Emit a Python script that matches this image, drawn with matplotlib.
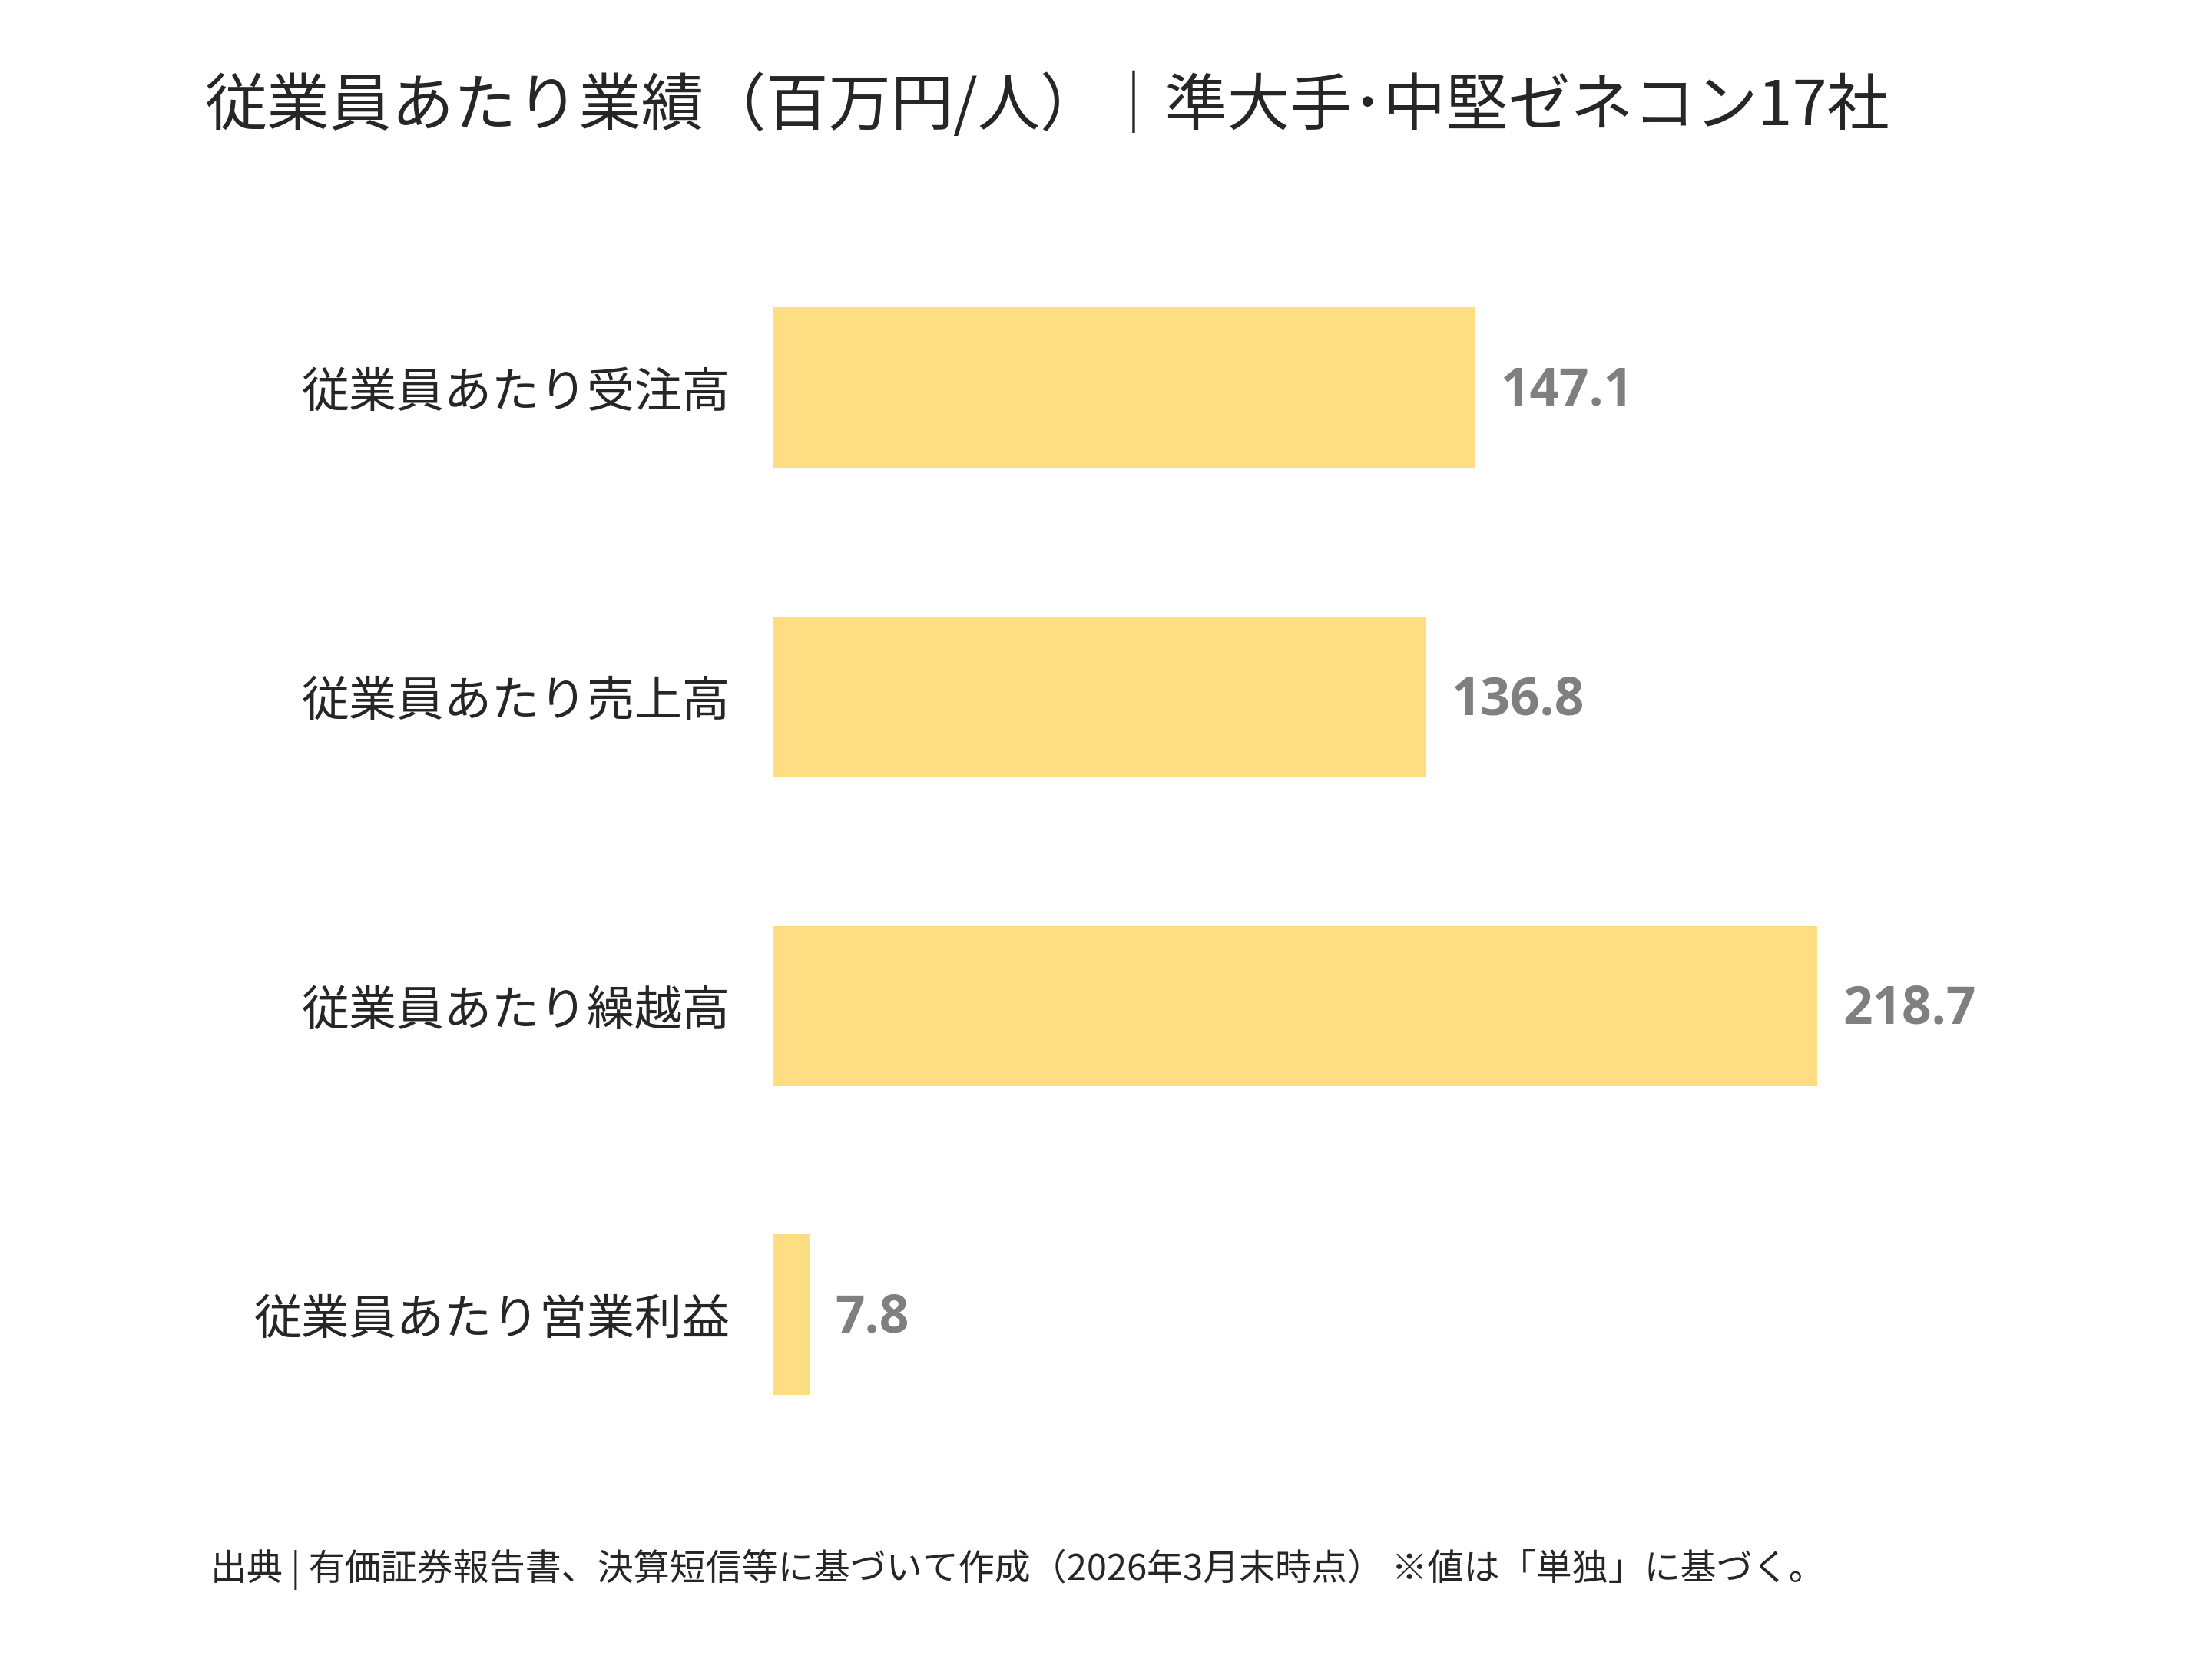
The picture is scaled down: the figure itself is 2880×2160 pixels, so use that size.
import matplotlib
matplotlib.use("Agg")
import matplotlib.pyplot as plt

plt.rcParams['font.family'] = ['Noto Sans CJK JP', 'DejaVu Sans']

categories = ['従業員あたり受注高', '従業員あたり売上高', '従業員あたり繰越高', '従業員あたり営業利益']
values = [147.1, 136.8, 218.7, 7.8]

title = '従業員あたり業績（百万円/人）｜準大手･中堅ゼネコン17社'
footer = '出典 | 有価証券報告書、決算短信等に基づいて作成（2026年3月末時点） ※値は「単独」に基づく。'

bar_color = '#FFDD83'
text_color = '#262626'
value_color = '#7F7F7F'

fig = plt.figure(figsize=(16, 12), dpi=180)
ax = fig.add_axes([0.3493, 0.1144, 0.54, 0.745])

y = list(range(len(categories)))
bars = ax.barh(y, values, height=0.52, color=bar_color)

ax.set_xlim(0, 250)
ax.set_ylim(len(categories) - 0.5, -0.5)
ax.set_yticks(y)
ax.set_yticklabels(categories, fontsize=24.8, color=text_color)
ax.tick_params(axis='y', length=0, pad=22)
ax.set_xticks([])
for s in ax.spines.values():
    s.set_visible(False)

for bar, v in zip(bars, values):
    ax.annotate(f'{v:.1f}',
                xy=(bar.get_width(), bar.get_y() + bar.get_height() / 2),
                xytext=(13, -2), textcoords='offset points',
                ha='left', va='center', fontsize=27, fontweight='bold',
                color=value_color, family='Open Sans')

fig.text(0.0925, 0.936, title, fontsize=32.5, color=text_color, ha='left', va='center')
fig.text(0.095, 0.054, footer, fontsize=18.8, color=text_color, ha='left', va='center')

fig.savefig('out.png', dpi=180, facecolor='white')
